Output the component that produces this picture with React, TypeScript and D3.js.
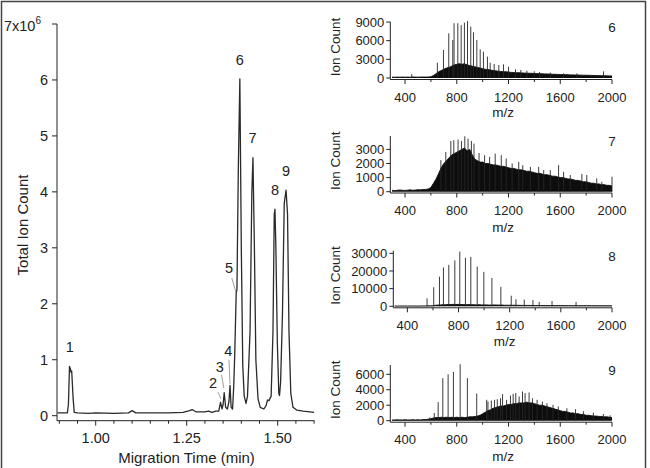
import React from 'react';
import * as d3 from 'd3';

// ---------- Electropherogram (left) ----------
const traceTime: number[] = [
  0.895, 0.91, 0.922, 0.925, 0.928, 0.930, 0.932, 0.934, 0.938, 0.941, 0.95, 0.98, 1.0, 1.05, 1.09, 1.10, 1.11,
  1.15, 1.2, 1.24, 1.258, 1.265, 1.275, 1.30, 1.31, 1.32, 1.33, 1.338, 1.343, 1.347, 1.350, 1.353, 1.357,
  1.362, 1.366, 1.369, 1.372, 1.376, 1.379, 1.382, 1.386, 1.388, 1.392, 1.396, 1.400, 1.404, 1.408, 1.413,
  1.417, 1.424, 1.429, 1.432, 1.436, 1.440, 1.446, 1.452, 1.462, 1.468, 1.472, 1.476, 1.482, 1.487, 1.4905,
  1.4925, 1.495, 1.499, 1.503, 1.505, 1.508, 1.513, 1.518, 1.523, 1.527, 1.531, 1.536, 1.542, 1.552, 1.57, 1.6,
];
const traceIon: number[] = [
  0.05, 0.05, 0.05, 0.2, 0.88, 0.85, 0.78, 0.8, 0.3, 0.06, 0.05, 0.04, 0.05, 0.04, 0.05, 0.09, 0.05,
  0.05, 0.05, 0.06, 0.09, 0.11, 0.07, 0.07, 0.08, 0.06, 0.08, 0.08, 0.24, 0.12, 0.2, 0.41, 0.15,
  0.12, 0.25, 0.54, 0.15, 0.12, 0.5, 1.1, 2.2, 2.25, 4.5, 6.02, 3.0, 0.9, 0.35, 0.22,
  0.35, 1.5, 4.0, 4.61, 3.0, 1.0, 0.3, 0.15, 0.12, 0.18, 0.28, 0.27, 0.35, 1.5, 3.6,
  3.69, 3.0, 1.3, 0.4, 0.36, 0.6, 1.8, 3.8, 4.03, 3.6, 1.5, 0.4, 0.15, 0.1, 0.08, 0.06,
];

const peakLabels = ['1', '2', '3', '4', '5', '6', '7', '8', '9'];
const peakLabelT = [0.929, 1.322, 1.341, 1.364, 1.366, 1.396, 1.431, 1.4926, 1.523];
const peakLabelV = [1.23, 0.58, 0.875, 1.155, 2.64, 6.35, 4.96, 4.03, 4.37];
// leader lines for peaks 2-5: [t0, v0, t1, v1]
const leaderLines: number[][] = [
  [1.336, 0.42, 1.344, 0.30],
  [1.3456, 0.73, 1.352, 0.49],
  [1.366, 1.0, 1.369, 0.57],
  [1.374, 2.46, 1.385, 2.21],
];

const yTicksLeft = [0, 1, 2, 3, 4, 5, 6, 7];
const xMajorLeft = [1.0, 1.25, 1.5];
const xMinorLeft = [0.9, 0.95, 1.05, 1.1, 1.15, 1.2, 1.3, 1.35, 1.4, 1.45, 1.55, 1.6];

// ---------- Mass spectra (right) ----------
const mzGrid: number[] = d3.range(300, 2001, 20);

const env6: number[] = [
  150, 120, 150, 130, 150, 140, 150, 130, 160, 150, 140, 150, 160, 150, 170, 200,
  400, 700, 1000, 1200, 1400, 1600, 1700, 1900, 2100, 2200, 2300, 2200, 2300, 2100, 2000, 1900, 1800, 1700, 1600, 1500,
  1400, 1350, 1300, 1200, 1150, 1100, 1050, 1000, 1000, 950,
  900, 880, 850, 850, 820, 800, 780, 760, 750, 720,
  700, 690, 680, 660, 650, 630, 600, 600, 580, 560,
  550, 540, 520, 500, 500, 480, 470, 460, 450, 440,
  430, 420, 400, 400, 380, 380, 360, 350, 340, 330,
];
const stick6Mz = [452, 650, 697, 738, 769, 779, 808, 834, 859, 883, 908, 929, 955, 981, 1006, 1037, 1058, 1089, 1125, 1161, 1200, 1254, 1295, 1342, 1399, 1440, 1523, 1626, 1729, 1935];
const stick6Val = [640, 2460, 4500, 7180, 6100, 8800, 8800, 8500, 8900, 9150, 8250, 7340, 6100, 4600, 4230, 3430, 2460, 2250, 2090, 2200, 1820, 1390, 1290, 1180, 1070, 960, 860, 750, 750, 1070];

const env7: number[] = [
  100, 80, 100, 120, 100, 90, 110, 130, 100, 120, 140, 130, 150, 160, 200, 300,
  600, 900, 1300, 1700, 2000, 2200, 2400, 2600, 2700, 2800, 2900, 3000, 3100, 2900, 3000, 2600, 2300, 2200, 2100, 2100,
  2000, 2000, 1950, 1900, 1900, 1850, 1800, 1800, 1750, 1700,
  1650, 1650, 1600, 1550, 1550, 1500, 1450, 1450, 1400, 1350,
  1300, 1300, 1250, 1200, 1200, 1150, 1100, 1100, 1050, 1000,
  1000, 950, 900, 900, 850, 800, 800, 750, 700, 700,
  650, 600, 600, 550, 550, 500, 500, 450, 450, 400,
];
const stick7Mz = [677, 715, 754, 777, 810, 836, 862, 887, 913, 933, 972, 1015, 1054, 1097, 1144, 1182, 1228, 1279, 1310, 1369, 1433, 1472, 1523, 1587, 1626, 1677, 1767, 1805, 1882, 1921, 2000];
const stick7Val = [2240, 2820, 3600, 3650, 3700, 3600, 3930, 3760, 3600, 3410, 2750, 2590, 2470, 2700, 2590, 2350, 2000, 2120, 1880, 1760, 1760, 1530, 1530, 1880, 1410, 1180, 1250, 1180, 940, 700, 1060];

const env8: number[] = [
  200, 150, 200, 180, 200, 150, 200, 180, 200, 150, 200, 220, 200, 250, 250, 300,
  600, 700, 800, 900, 900, 1000, 1000, 1100, 1000, 1100, 1000, 1000, 900, 1000, 900, 900, 800, 900, 800, 800,
  800, 700, 700, 800, 700, 700, 700, 600, 600, 600,
  600, 600, 550, 550, 500, 500, 500, 500, 450, 450,
  450, 450, 450, 400, 400, 400, 400, 400, 400, 400,
  400, 380, 380, 380, 350, 350, 350, 350, 350, 350,
  330, 330, 330, 330, 300, 300, 300, 300, 300, 300,
];
const stick8Mz = [554, 606, 651, 682, 724, 771, 810, 854, 896, 946, 998, 1061, 1131, 1212, 1249, 1314, 1382, 1431, 1531, 1719];
const stick8Val = [4500, 10800, 16800, 22000, 23500, 26000, 31000, 27500, 28000, 22500, 19500, 16000, 11000, 6000, 4000, 3800, 3500, 2500, 3000, 2500];

const env9: number[] = [
  100, 100, 120, 100, 100, 120, 100, 100, 130, 100, 120, 100, 150, 150, 200, 250,
  350, 400, 400, 450, 400, 450, 400, 450, 400, 450, 400, 450, 400, 450, 500, 500, 550, 600, 700, 900,
  1100, 1300, 1400, 1600, 1700, 1800, 1900, 1900, 2000, 2100,
  2100, 2200, 2200, 2300, 2300, 2300, 2400, 2300, 2300, 2200,
  2100, 2000, 2000, 1900, 1800, 1700, 1600, 1500, 1400, 1300,
  1200, 1200, 1100, 1000, 1000, 900, 900, 800, 800, 700,
  700, 650, 600, 600, 550, 550, 500, 500, 450, 400,
];
const stick9Mz = [592, 626, 656, 692, 733, 774, 826, 882, 954, 1031, 1041, 1067, 1092, 1113, 1138, 1154, 1185, 1215, 1236, 1256, 1282, 1308, 1328, 1359, 1385, 1421, 1462, 1497, 1544, 1585, 1651, 1718, 1779, 1856, 1933, 1985];
const stick9Val = [430, 1000, 2400, 5500, 6000, 6300, 7300, 5500, 3500, 2700, 2480, 2600, 2700, 2780, 2900, 3430, 2700, 3260, 3480, 3570, 3130, 3780, 3570, 3650, 2900, 2700, 2480, 2260, 2040, 1830, 1610, 1480, 1220, 1040, 870, 700];

const panelTags = ['6', '7', '8', '9'];
const panelMax = [9000, 3950, 31500, 7200];
const panelYTicks = [
  [0, 3000, 6000, 9000],
  [0, 1000, 2000, 3000],
  [0, 10000, 20000, 30000],
  [0, 2000, 4000, 6000],
];
const mzMajor = [400, 800, 1200, 1600, 2000];
const mzMinor = [600, 1000, 1400, 1800];

const FONT = '"Liberation Sans", Arial, Helvetica, sans-serif';
const INK = '#222';

// layout for the four spectrum panels
const panelLayout = [
  { left: 390.3, x0: 286, zeroY: 78, topY: 22, axisY: 79.5, tickY: 102, mzY: 116.5, tagY: 31.5 },
  { left: 390.3, x0: 286, zeroY: 191.7, topY: 136, axisY: 193, tickY: 215, mzY: 232, tagY: 146 },
  { left: 393.3, x0: 290, zeroY: 306.3, topY: 250.7, axisY: 307.8, tickY: 329.5, mzY: 346, tagY: 261 },
  { left: 390.3, x0: 286, zeroY: 420.7, topY: 365, axisY: 422.2, tickY: 443.5, mzY: 461, tagY: 375 },
];

const envs = [env6, env7, env8, env9];
const sticksMz = [stick6Mz, stick7Mz, stick8Mz, stick9Mz];
const sticksVal = [stick6Val, stick7Val, stick8Val, stick9Val];

function Spectrum({ i }: { i: number }) {
  const L = panelLayout[i];
  const right = 612;
  const x = d3.scaleLinear().domain([L.x0, 2000]).range([L.left, right]);
  const y = d3.scaleLinear().domain([0, panelMax[i]]).range([L.zeroY, L.topY]);
  const env = envs[i];
  const data = mzGrid.map((m, k) => [m, env[k]] as [number, number]);
  const area = d3
    .area<[number, number]>()
    .x((d) => x(d[0]))
    .y0(L.zeroY)
    .y1((d) => y(d[1]));
  const line = d3
    .line<[number, number]>()
    .x((d) => x(d[0]))
    .y((d) => y(d[1]));
  const midX = (L.left + right) / 2;
  const ctrY = (L.topY + L.zeroY) / 2 - 3;
  return (
    <g>
      <path d={area(data) || ''} fill="#0d0d0d" />
      <path d={line(data) || ''} fill="none" stroke="#0d0d0d" strokeWidth={0.9} />
      {sticksMz[i].map((m, k) => (
        <line key={k} x1={x(m)} x2={x(m)} y1={L.zeroY} y2={y(sticksVal[i][k])} stroke="#262626" strokeWidth={0.9} />
      ))}
      {/* axes */}
      <line x1={L.left} x2={L.left} y1={L.topY} y2={L.axisY} stroke={INK} strokeWidth={1} />
      <line x1={L.left} x2={right} y1={L.axisY} y2={L.axisY} stroke={INK} strokeWidth={1} />
      {panelYTicks[i].map((t) => (
        <g key={t}>
          <line x1={L.left - 4} x2={L.left} y1={y(t)} y2={y(t)} stroke={INK} />
          <text x={L.left - 6} y={y(t)} dy="0.35em" textAnchor="end" fontSize={13} fill={INK}>
            {t}
          </text>
        </g>
      ))}
      {mzMajor.map((t) => (
        <g key={t}>
          <line x1={x(t)} x2={x(t)} y1={L.axisY} y2={L.axisY + 4.5} stroke={INK} />
          <text x={x(t)} y={L.tickY} textAnchor="middle" fontSize={13} fill={INK}>
            {t}
          </text>
        </g>
      ))}
      {mzMinor.map((t) => (
        <line key={t} x1={x(t)} x2={x(t)} y1={L.axisY} y2={L.axisY + 2.5} stroke={INK} />
      ))}
      <text x={midX + 2} y={L.mzY} textAnchor="middle" fontSize={13.5} fill={INK}>
        m/z
      </text>
      <text
        transform={`translate(340,${ctrY}) rotate(-90)`}
        textAnchor="middle"
        fontSize={13.5}
        fill={INK}
      >
        Ion Count
      </text>
      <text x={right} y={L.tagY} textAnchor="middle" fontSize={13.5} fill={INK}>
        {panelTags[i]}
      </text>
    </g>
  );
}

function Electropherogram() {
  const x = d3.scaleLinear().domain([0.895, 1.6]).range([57.5, 314.1]);
  const y = d3.scaleLinear().domain([0, 7]).range([415.7, 24]);
  const axisX = 57;
  const axisY = 420.7;
  const pts = traceTime.map((t, k) => [t, traceIon[k]] as [number, number]);
  const line = d3
    .line<[number, number]>()
    .x((d) => x(d[0]))
    .y((d) => y(d[1]));
  return (
    <g>
      <path d={line(pts) || ''} fill="none" stroke="#2a2a2a" strokeWidth={1.3} strokeLinejoin="round" />
      {leaderLines.map((l, k) => (
        <line key={k} x1={x(l[0])} y1={y(l[1])} x2={x(l[2])} y2={y(l[3])} stroke="#888" strokeWidth={0.8} />
      ))}
      {peakLabels.map((s, k) => (
        <text key={s} x={x(peakLabelT[k])} y={y(peakLabelV[k])} dy="0.35em" textAnchor="middle" fontSize={14.5} fill={INK}>
          {s}
        </text>
      ))}
      <line x1={axisX} x2={axisX} y1={y(7)} y2={axisY} stroke={INK} />
      <line x1={axisX} x2={314.5} y1={axisY} y2={axisY} stroke={INK} />
      {yTicksLeft.map((t) => (
        <g key={t}>
          <line x1={axisX - 5} x2={axisX} y1={y(t)} y2={y(t)} stroke={INK} />
          {t < 7 ? (
            <text x={axisX - 9} y={y(t)} dy="0.35em" textAnchor="end" fontSize={14.5} fill={INK}>
              {t}
            </text>
          ) : (
            <text x={axisX - 16} y={y(t)} dy="0.5em" textAnchor="end" fontSize={14.5} fill={INK}>
              7x10
              <tspan fontSize={10} dy="-0.75em">6</tspan>
            </text>
          )}
        </g>
      ))}
      {xMajorLeft.map((t) => (
        <g key={t}>
          <line x1={x(t)} x2={x(t)} y1={axisY} y2={axisY + 5} stroke={INK} />
          <text x={x(t)} y={axisY + 22.5} textAnchor="middle" fontSize={14.5} fill={INK}>
            {t.toFixed(2)}
          </text>
        </g>
      ))}
      {xMinorLeft.map((t) => (
        <line key={t} x1={x(t)} x2={x(t)} y1={axisY} y2={axisY + 3} stroke={INK} />
      ))}
      <text x={186.5} y={463} textAnchor="middle" fontSize={15} fill={INK}>
        Migration Time (min)
      </text>
      <text transform="translate(28,225) rotate(-90)" textAnchor="middle" fontSize={15} fill={INK}>
        Total Ion Count
      </text>
    </g>
  );
}

export default function App() {
  return (
    <svg
      width={650}
      height={468}
      style={{ position: 'fixed', left: 0, top: 0, background: '#fff', fontFamily: FONT }}
      fontFamily={FONT}
    >
      <rect x={0} y={0} width={650} height={468} fill="#fff" />
      <rect x={1.5} y={1.5} width={644} height={480} fill="none" stroke="#444" strokeWidth={1.5} />
      <Electropherogram />
      {[0, 1, 2, 3].map((i) => (
        <Spectrum key={i} i={i} />
      ))}
    </svg>
  );
}
